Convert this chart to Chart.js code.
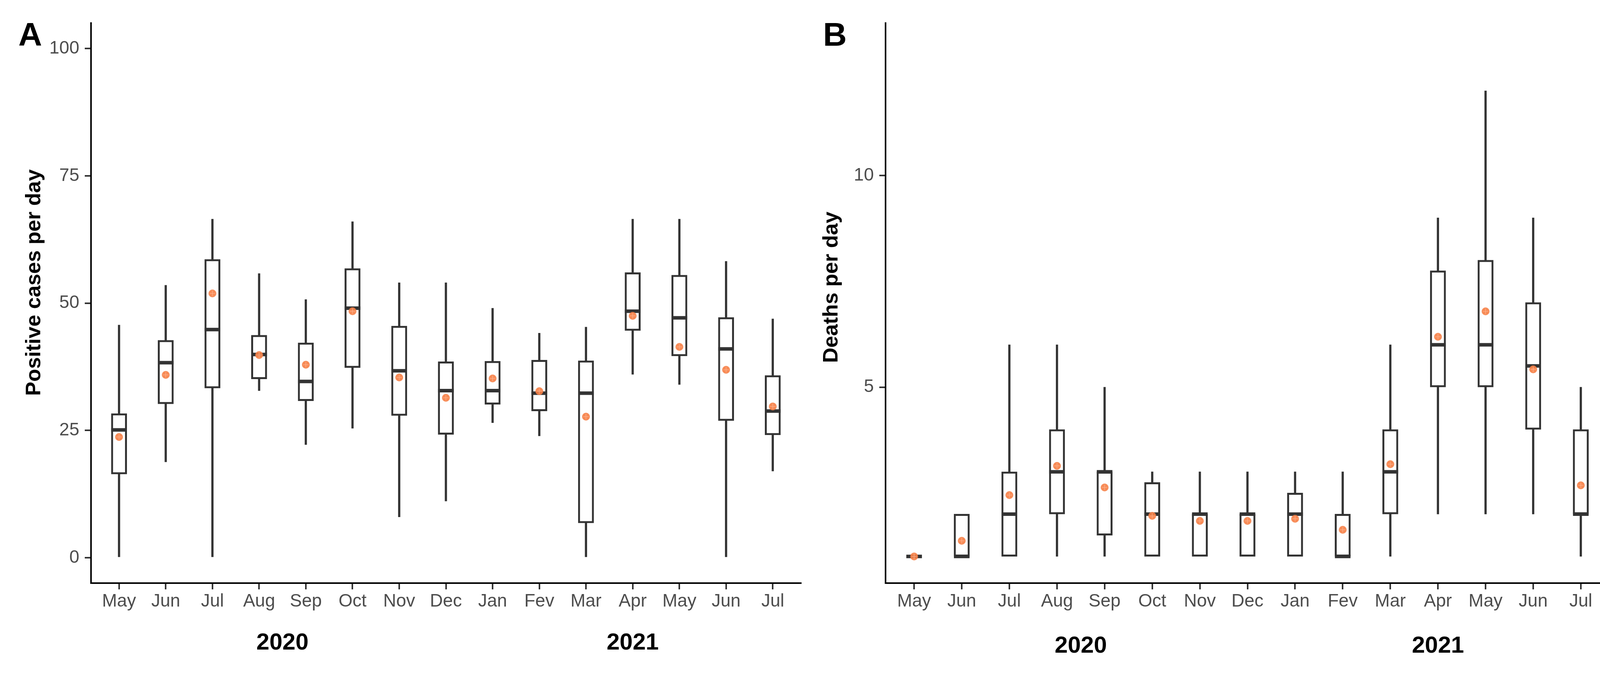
<!DOCTYPE html>
<html>
<head>
<meta charset="utf-8">
<script src="https://cdn.jsdelivr.net/npm/chart.js@4.4.1/dist/chart.umd.min.js"></script>
<style>
  html, body { margin: 0; padding: 0; background: #fff; }
  #wrap { position: relative; width: 4158px; height: 1722px; }
  canvas { position: absolute; top: 0; }
</style>
</head>
<body>
<div id="wrap">
  <canvas id="casesChart" width="2079" height="1722" style="left:0"></canvas>
  <canvas id="deathsChart" width="2079" height="1722" style="left:2079px"></canvas>
</div>
<script>
// Months May 2020 - Jul 2021
const months = ['May', 'Jun', 'Jul', 'Aug', 'Sep', 'Oct', 'Nov', 'Dec', 'Jan', 'Fev', 'Mar', 'Apr', 'May', 'Jun', 'Jul'];
const monthYear = ['2020', '2020', '2020', '2020', '2020', '2020', '2020', '2020', '2021', '2021', '2021', '2021', '2021', '2021', '2021'];

// Panel A - positive cases per day
const casesMin    = [0, 18.8, 0, 32.8, 22.2, 25.4, 8.0, 11.1, 26.5, 23.9, 0, 36.0, 34.0, 0, 17.0];
const casesQ1     = [16.4, 30.2, 33.3, 35.1, 30.8, 37.3, 27.9, 24.2, 30.1, 28.8, 6.8, 44.6, 39.6, 26.9, 24.1];
const casesMedian = [25.1, 38.3, 44.8, 39.9, 34.6, 49.0, 36.7, 32.8, 32.8, 32.3, 32.3, 48.4, 47.1, 41.0, 28.8];
const casesQ3     = [28.3, 42.7, 58.6, 43.7, 42.2, 56.8, 45.5, 38.5, 38.6, 38.8, 38.7, 56.0, 55.5, 47.2, 35.8];
const casesMax    = [45.7, 53.5, 66.5, 55.8, 50.7, 66.0, 54.0, 54.0, 49.0, 44.1, 45.3, 66.5, 66.5, 58.2, 46.9];
const casesMean   = [23.7, 35.9, 51.9, 39.8, 37.9, 48.4, 35.4, 31.4, 35.2, 32.7, 27.7, 47.5, 41.4, 36.9, 29.7];
const casesTicks  = [0, 25, 50, 75, 100];

// Panel B - deaths per day
const deathsMin    = [1, 1, 1, 1, 1, 1, 1, 1, 1, 1, 1, 2, 2, 2, 1];
const deathsQ1     = [1, 1, 1, 2, 1.5, 1, 1, 1, 1, 1, 2, 5, 5, 4, 2];
const deathsMedian = [1, 1, 2, 3, 3, 2, 2, 2, 2, 1, 3, 6, 6, 5.5, 2];
const deathsQ3     = [1, 2, 3, 4, 3, 2.75, 2, 2, 2.5, 2, 4, 7.75, 8, 7, 4];
const deathsMax    = [1, 2, 6, 6, 5, 3, 3, 3, 3, 3, 6, 9, 12, 9, 5];
const deathsMean   = [1, 1.37, 2.45, 3.14, 2.63, 1.96, 1.84, 1.84, 1.89, 1.63, 3.18, 6.19, 6.79, 5.42, 2.68];
const deathsTicks  = [5, 10];

const family = '"Liberation Sans", Arial, Helvetica, sans-serif';

// orange mean marker (circle with faint cross, like ggplot shape 13)
function meanMarker() {
    const c = document.createElement('canvas');
    c.width = 22; c.height = 22;
    const g = c.getContext('2d');
    g.fillStyle = 'rgba(246,128,70,0.92)';
    g.beginPath(); g.arc(11, 11, 10, 0, Math.PI * 2); g.fill();
    g.strokeStyle = 'rgba(255,190,160,0.7)';
    g.lineWidth = 1.5;
    g.beginPath();
    g.moveTo(4, 11); g.lineTo(18, 11);
    g.moveTo(11, 4); g.lineTo(11, 18);
    g.stroke();
    return c;
}

// letter, rotated y title, year labels under the month ticks
const panelText = {
    id: 'panelText',
    afterDraw(chart, args, opts) {
        const ctx = chart.ctx;
        const xs = chart.scales.x;
        ctx.save();
        ctx.fillStyle = '#000';
        ctx.textBaseline = 'alphabetic';
        ctx.textAlign = 'left';
        ctx.font = 'bold 84px ' + family;
        ctx.fillText(opts.letter, opts.letterX, 117);

        ctx.save();
        ctx.font = 'bold 54px ' + family;
        ctx.translate(opts.titleX, opts.titleY);
        ctx.rotate(-Math.PI / 2);
        ctx.textAlign = 'center';
        ctx.fillText(opts.title, 0, 0);
        ctx.restore();

        ctx.font = 'bold 60px ' + family;
        ctx.textAlign = 'center';
        const years = [...new Set(monthYear)];
        years.forEach(function(yr) {
            const idx = monthYear.map((y, i) => y === yr ? i : -1).filter(i => i >= 0);
            const mid = idx.reduce((a, b) => a + b, 0) / idx.length;
            ctx.fillText(yr, xs.getPixelForValue(mid), opts.yearY);
        });
        ctx.restore();
    }
};

function buildBoxChart(canvasId, cfg) {
    const xy = arr => arr.map((v, i) => ({ x: i, y: v }));
    const span = (lo, hi) => lo.map((v, i) => ({ x: i, y: [v, hi[i]] }));
    const tickFont = { family: family, size: 46 };

    return new Chart(document.getElementById(canvasId), {
        type: 'bar',
        data: {
            datasets: [
                { // whiskers
                    type: 'bar', data: span(cfg.min, cfg.max),
                    backgroundColor: '#333333', borderWidth: 0,
                    barThickness: 5, grouped: false, order: 4
                },
                { // boxes
                    type: 'bar', data: span(cfg.q1, cfg.q3),
                    backgroundColor: '#ffffff', borderColor: '#333333', borderWidth: 5,
                    borderSkipped: false, barThickness: 40, grouped: false, order: 3
                },
                { // medians
                    type: 'scatter', data: xy(cfg.median),
                    pointStyle: 'line', pointRadius: 20,
                    pointBorderWidth: 9, pointBorderColor: '#333333', order: 2
                },
                { // means
                    type: 'scatter', data: xy(cfg.mean),
                    pointStyle: meanMarker(), pointRadius: 10, order: 1
                }
            ]
        },
        options: {
            responsive: false,
            animation: false,
            devicePixelRatio: 1,
            layout: { padding: { top: 59, right: cfg.padRight, left: 0, bottom: 0 } },
            plugins: {
                legend: { display: false },
                tooltip: { enabled: false },
                panelText: cfg.text
            },
            scales: {
                x: {
                    type: 'linear',
                    min: -0.6,
                    max: months.length - 0.4,
                    offset: false,
                    afterBuildTicks: s => { s.ticks = months.map((m, i) => ({ value: i })); },
                    afterFit: s => { s.height = 230; },
                    ticks: {
                        callback: v => months[v],
                        font: tickFont, color: '#4d4d4d',
                        padding: 4, autoSkip: false, maxRotation: 0
                    },
                    grid: {
                        display: true, offset: false, drawOnChartArea: false, drawTicks: true,
                        tickLength: 16, lineWidth: 4, color: '#333333'
                    },
                    border: { display: true, color: '#000000', width: 4 }
                },
                y: {
                    min: cfg.yMin,
                    max: cfg.yMax,
                    afterBuildTicks: s => { s.ticks = cfg.yTicks.map(v => ({ value: v })); },
                    afterFit: s => { s.width = cfg.axisLeft; },
                    ticks: {
                        callback: v => String(v),
                        font: tickFont, color: '#4d4d4d', padding: 14
                    },
                    grid: {
                        display: true, drawOnChartArea: false, drawTicks: true,
                        tickLength: 16, lineWidth: 4, color: '#333333'
                    },
                    border: { display: true, color: '#000000', width: 4 }
                }
            }
        },
        plugins: [panelText]
    });
}

buildBoxChart('casesChart', {
    min: casesMin, q1: casesQ1, median: casesMedian, q3: casesQ3, max: casesMax, mean: casesMean,
    yMin: -5, yMax: 105, yTicks: casesTicks,
    axisLeft: 233, padRight: 25,
    text: { letter: 'A', letterX: 47, title: 'Positive cases per day', titleX: 103, titleY: 723, yearY: 1662 }
});

buildBoxChart('deathsChart', {
    min: deathsMin, q1: deathsQ1, median: deathsMedian, q3: deathsQ3, max: deathsMax, mean: deathsMean,
    yMin: 0.37, yMax: 13.6, yTicks: deathsTicks,
    axisLeft: 188, padRight: 38,
    text: { letter: 'B', letterX: 28, title: 'Deaths per day', titleX: 65, titleY: 735, yearY: 1670 }
});
</script>
</body>
</html>
